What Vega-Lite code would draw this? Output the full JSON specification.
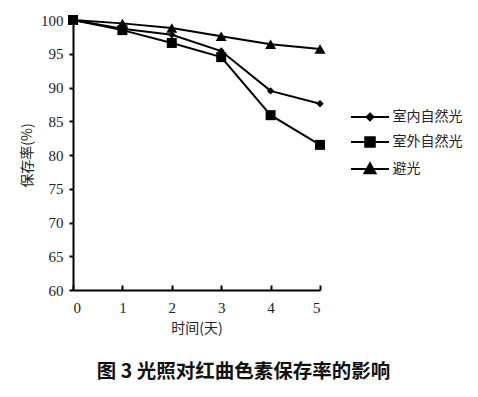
{
  "$schema": "https://vega.github.io/schema/vega-lite/v6.json",
  "width": 247,
  "height": 270,
  "autosize": {"type": "none"},
  "padding": {"left": 73, "top": 20, "right": 158, "bottom": 107},
  "background": "white",
  "config": {
    "view": {"stroke": null},
    "font": "Liberation Serif"
  },
  "title": {
    "text": "图 3   光照对红曲色素保存率的影响",
    "orient": "bottom",
    "anchor": "middle",
    "dx": 47,
    "offset": 28,
    "font": "Noto Sans CJK SC",
    "fontSize": 19.5,
    "fontWeight": "bold",
    "color": "#111"
  },
  "data": {
    "values": [
      {"series": "室内自然光", "day": 0, "rate": 100},
      {"series": "室内自然光", "day": 1, "rate": 98.7},
      {"series": "室内自然光", "day": 2, "rate": 97.8},
      {"series": "室内自然光", "day": 3, "rate": 95.4},
      {"series": "室内自然光", "day": 4, "rate": 89.5},
      {"series": "室内自然光", "day": 5, "rate": 87.6},
      {"series": "室外自然光", "day": 0, "rate": 100},
      {"series": "室外自然光", "day": 1, "rate": 98.5},
      {"series": "室外自然光", "day": 2, "rate": 96.6},
      {"series": "室外自然光", "day": 3, "rate": 94.5},
      {"series": "室外自然光", "day": 4, "rate": 85.9},
      {"series": "室外自然光", "day": 5, "rate": 81.5},
      {"series": "避光", "day": 0, "rate": 100},
      {"series": "避光", "day": 1, "rate": 99.5},
      {"series": "避光", "day": 2, "rate": 98.8},
      {"series": "避光", "day": 3, "rate": 97.6},
      {"series": "避光", "day": 4, "rate": 96.4},
      {"series": "避光", "day": 5, "rate": 95.7}
    ]
  },
  "encoding": {
    "x": {
      "field": "day",
      "type": "quantitative",
      "scale": {"domain": [0, 5], "nice": false},
      "axis": {
        "title": "时间(天)",
        "titleFont": "Noto Sans CJK SC",
        "titleFontSize": 14,
        "titleFontWeight": "normal",
        "titleColor": "#222",
        "titlePadding": 6,
        "values": [0, 1, 2, 3, 4, 5],
        "format": "d",
        "grid": false,
        "domainColor": "#000",
        "domainWidth": 2,
        "tickColor": "#000",
        "tickWidth": 2,
        "tickSize": -5,
        "labelPadding": 15,
        "labelFontSize": 15,
        "labelColor": "#222",
        "labelFont": "Liberation Serif"
      }
    },
    "y": {
      "field": "rate",
      "type": "quantitative",
      "scale": {"domain": [60, 100], "nice": false, "zero": false},
      "axis": {
        "title": "保存率(%)",
        "titleFont": "Noto Sans CJK SC",
        "titleFontSize": 14,
        "titleFontWeight": "normal",
        "titleColor": "#222",
        "titlePadding": 6,
        "values": [60, 65, 70, 75, 80, 85, 90, 95, 100],
        "grid": false,
        "domainColor": "#000",
        "domainWidth": 2,
        "tickColor": "#000",
        "tickWidth": 2,
        "tickSize": 4,
        "labelPadding": 6,
        "labelFontSize": 15,
        "labelColor": "#222",
        "labelFont": "Liberation Serif"
      }
    },
    "detail": {"field": "series", "type": "nominal"}
  },
  "layer": [
    {
      "mark": {"type": "line", "color": "#000", "strokeWidth": 2}
    },
    {
      "mark": {"type": "point", "filled": true, "opacity": 1},
      "encoding": {
        "shape": {
          "condition": [
            {"test": "datum.series === '室内自然光'", "value": "diamond"},
            {"test": "datum.series === '室外自然光'", "value": "square"}
          ],
          "value": "triangle-up"
        },
        "size": {
          "condition": [
            {"test": "datum.series === '室内自然光'", "value": 55},
            {"test": "datum.series === '室外自然光'", "value": 100}
          ],
          "value": 120
        },
        "color": {
          "field": "series",
          "type": "nominal",
          "scale": {"domain": ["室内自然光", "室外自然光", "避光"], "range": ["#000000", "#000000", "#000000"]},
          "legend": {
            "title": null,
            "orient": "none",
            "legendX": 286.5,
            "legendY": 86.5,
            "padding": 0,
            "symbolSize": 361,
            "symbolType": {"expr": "datum.value === '室内自然光' ? 'M-2,0H2M0,-0.36L0.36,0L0,0.36L-0.36,0Z' : datum.value === '室外自然光' ? 'M-2,0H2M-0.5,-0.5H0.5V0.5H-0.5Z' : 'M-2,0H2M0,-0.6L0.58,0.45L-0.58,0.45Z'"},
            "symbolStrokeColor": "#000",
            "symbolStrokeWidth": 2,
            "rowPadding": 7,
            "labelOffset": 12,
            "labelFont": "Noto Sans CJK SC",
            "labelFontSize": 14,
            "labelColor": "#222",
            "labelLimit": 200,
            "encode": {
              "symbols": {
                "stroke": {"value": "#000"},
                "strokeWidth": {"value": 2},
                "opacity": {"value": 1}
              }
            }
          }
        }
      }
    }
  ]
}
